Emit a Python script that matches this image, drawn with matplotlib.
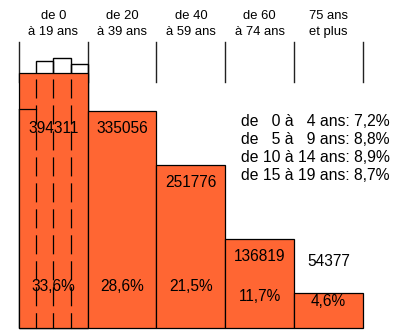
import matplotlib
matplotlib.use("Agg")
import matplotlib.pyplot as plt

plt.rcParams["font.family"] = ["Liberation Sans", "DejaVu Sans"]
plt.rcParams["lines.scale_dashes"] = False

# Age groups (20-year classes) and their population
group_labels = [("de 0", "à 19 ans"), ("de 20", "à 39 ans"), ("de 40", "à 59 ans"),
                ("de 60", "à 74 ans"), ("75 ans", "et plus")]
group_starts = [0, 20, 40, 60, 80]
populations = [394311, 335056, 251776, 136819, 54377]
shares = [33.6, 28.6, 21.5, 11.7, 4.6]
share_labels = ["33,6%", "28,6%", "21,5%", "11,7%", "4,6%"]

# Detail of the youngest class, by 5-year sub-groups
sub_starts = [0, 5, 10, 15]
sub_shares = [7.2, 8.8, 8.9, 8.7]
sub_lines = ["de   0 à   4 ans: 7,2%",
             "de   5 à   9 ans: 8,8%",
             "de 10 à 14 ans: 8,9%",
             "de 15 à 19 ans: 8,7%"]

BAR_W = 20
SUB_W = 5
ORANGE = "#FF6633"

# pixel geometry of the drawing area
W, H = 412, 333
X0_PX, X_SCALE = 19.0, 3.437      # px at x=0, px per year
Y0_PX, Y_SCALE = 328.3, 7.6       # px at y=0, px per percent

fig = plt.figure(figsize=(W / 100, H / 100), dpi=100)
ax = fig.add_axes([0, 0, 1, 1])
ax.set_xlim(-X0_PX / X_SCALE, (W - X0_PX) / X_SCALE)
ax.set_ylim((Y0_PX - H) / Y_SCALE, Y0_PX / Y_SCALE)
ax.axis("off")


def py(px):
    """vertical pixel position -> data units"""
    return (Y0_PX - px) / Y_SCALE


# 5-year sub-histogram (density scaled to the 20-year bars)
sub_heights = [s * BAR_W / SUB_W for s in sub_shares]
ax.bar(sub_starts, sub_heights, width=SUB_W, align="edge", fill=False,
       edgecolor="black", linewidth=1.0, zorder=1)

# main histogram
ax.bar(group_starts, shares, width=BAR_W, align="edge", color=ORANGE,
       edgecolor="black", linewidth=0.9, zorder=2)

# sub-group boundaries seen through the first bar
top0 = shares[0]
for x in sub_starts[1:]:
    ax.plot([x, x], [top0, 0], color="black", linewidth=0.9,
            linestyle=(14.4, (13.7, 5.0)), zorder=3)
ax.plot([sub_starts[0], sub_starts[0] + SUB_W], [sub_heights[0], sub_heights[0]],
        color="black", linewidth=0.9, zorder=3)

# class separators under the header
edges = group_starts + [group_starts[-1] + BAR_W]
for x in edges:
    ax.plot([x, x], [py(82.3), py(41.7)], color="#222222", linewidth=1.0, zorder=0)

# header labels
for x0, (l1, l2) in zip(group_starts, group_labels):
    cx = x0 + BAR_W / 2
    ax.text(cx, py(19.3), l1, ha="center", va="baseline", fontsize=9.4)
    ax.text(cx, py(35.0), l2, ha="center", va="baseline", fontsize=9.4)

# population counts
pop_y = [py(132.7), py(132.7), py(187.3), py(260.7), py(265.7)]
for x0, p, y in zip(group_starts, populations, pop_y):
    ax.text(x0 + BAR_W / 2, y, str(p), ha="center", va="baseline",
            fontsize=11.2, zorder=4)

# percentage shares
pct_y = [py(291.0), py(291.0), py(291.0), py(300.7), py(306.0)]
for x0, lab, y in zip(group_starts, share_labels, pct_y):
    ax.text(x0 + BAR_W / 2, y, lab, ha="center", va="baseline",
            fontsize=11.2, zorder=4)

# detail of the 0-19 class
leg_x = (242.0 - X0_PX) / X_SCALE - 0.2
for i, line in enumerate(sub_lines):
    ax.text(leg_x, py(126.0 + 18.1 * i), line, ha="left", va="baseline",
            fontsize=11.3)

fig.savefig("out.png", dpi=100)
